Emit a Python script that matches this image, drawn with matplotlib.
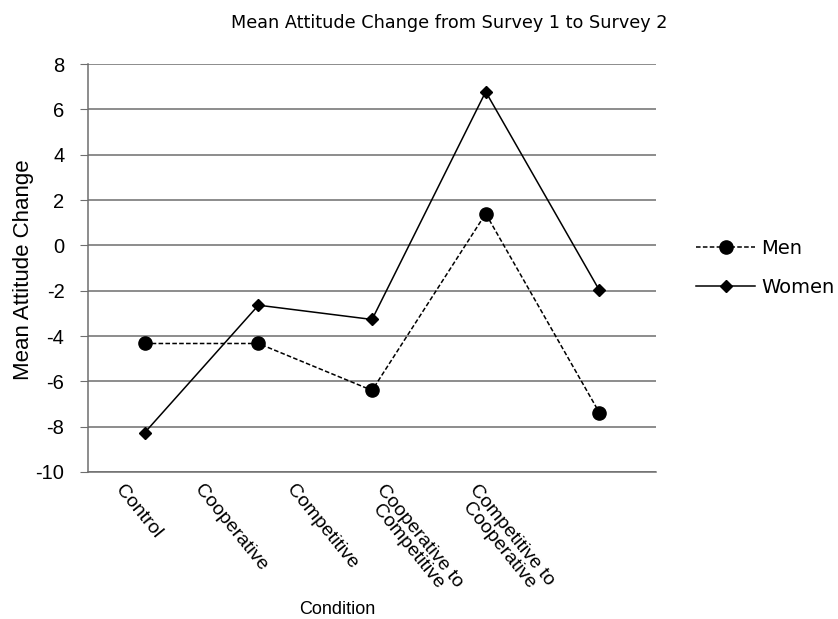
import matplotlib
matplotlib.use("Agg")
import matplotlib.pyplot as plt
import matplotlib.transforms as mtransforms
import numpy as np

# Mean attitude change per condition
conditions = ["Control", "Cooperative", "Competitive",
              "Cooperative to\nCompetitive", "Competitive to\nCooperative"]
men = [-4.33, -4.33, -6.4, 1.4, -7.38]
women = [-8.26, -2.64, -3.27, 6.78, -1.98]
y_ticks = [-10, -8, -6, -4, -2, 0, 2, 4, 6, 8]

plt.rcParams['font.family'] = ['Liberation Sans', 'DejaVu Sans']

fig = plt.figure(figsize=(8.38, 6.19), dpi=100)
ax = fig.add_axes([0.105, 0.2375, 0.678, 0.659])

x = np.arange(len(conditions)) + 0.5

ax.plot(x, men, color='black', linestyle=(0, (3, 1.5)), linewidth=1.1,
        marker='o', markersize=9.5, label='Men', zorder=3)
ax.plot(x, women, color='black', linestyle='-', linewidth=1.1,
        marker='D', markersize=6.5, label='Women', zorder=3)

ax.set_xlim(0, len(conditions))
ax.set_ylim(-10, 8)
ax.set_yticks(y_ticks)
ax.set_yticklabels([str(v) for v in y_ticks], fontsize=14.5)
ax.yaxis.grid(True, color='#6e6e6e', linewidth=1.1)
ax.set_axisbelow(True)

for side in ['top', 'right']:
    ax.spines[side].set_visible(False)
ax.spines['left'].set_color('#6e6e6e')
ax.spines['bottom'].set_color('#6e6e6e')
ax.spines['left'].set_linewidth(1.1)
ax.spines['bottom'].set_linewidth(1.1)
ax.tick_params(axis='y', length=6, color='#6e6e6e', pad=11)
ax.tick_params(axis='x', length=0, pad=7)

ax.set_xticks(x)
ax.set_xticklabels(conditions, rotation=-51, ha='center', va='top',
                   fontsize=14, linespacing=0.9)
# nudge the slanted labels to the left, more for the later ones
for i, lbl in enumerate(ax.get_xticklabels()):
    shift = mtransforms.ScaledTranslation(-(6 + 22 * i) / 100, 0, fig.dpi_scale_trans)
    lbl.set_transform(lbl.get_transform() + shift)

ax.set_ylabel("Mean Attitude Change", fontsize=16)
ax.yaxis.set_label_coords(-0.095, 0.495)
fig.text(337 / 838, 1 - 610 / 619, "Condition", fontsize=13, ha='center', va='center')

fig.text(449 / 838, 1 - 23 / 619, "Mean Attitude Change from Survey 1 to Survey 2",
         fontsize=12.7, family='DejaVu Sans', ha='center', va='center')

leg = ax.legend(loc='center left', bbox_to_anchor=(1.04, 0.5), frameon=False,
                prop={'family': 'DejaVu Sans', 'size': 14},
                handlelength=3.0, handletextpad=0.35, labelspacing=1.05)

fig.savefig("out.png", dpi=100)
